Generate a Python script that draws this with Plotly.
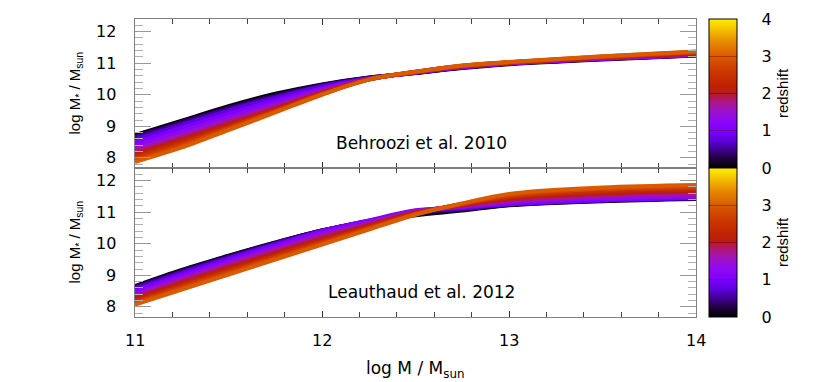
import plotly.graph_objects as go
from plotly.subplots import make_subplots
from plotly.colors import sample_colorscale

# ---------------- data ----------------
halo_mass = [11.0, 11.25, 11.5, 11.75, 12.0, 12.25, 12.5, 12.75, 13.0, 13.5, 14.0]
redshifts = [0.0, 0.25, 0.5, 0.75, 1.0, 1.25, 1.5, 1.75, 2.0, 2.25, 2.5, 2.75, 3.0]

# Behroozi et al. 2010 : log M* at each halo mass, one list per redshift
behroozi_z000 = [8.72, 9.18, 9.64, 10.03, 10.33, 10.55, 10.69, 10.85, 10.97, 11.12, 11.24]
behroozi_z025 = [8.69, 9.15, 9.60, 9.99, 10.31, 10.54, 10.69, 10.86, 10.98, 11.13, 11.25]
behroozi_z050 = [8.64, 9.10, 9.56, 9.95, 10.29, 10.53, 10.70, 10.86, 10.98, 11.13, 11.25]
behroozi_z075 = [8.58, 9.04, 9.50, 9.90, 10.26, 10.52, 10.70, 10.87, 10.99, 11.14, 11.26]
behroozi_z100 = [8.49, 8.95, 9.40, 9.82, 10.21, 10.51, 10.71, 10.87, 10.99, 11.14, 11.26]
behroozi_z125 = [8.38, 8.84, 9.30, 9.74, 10.17, 10.50, 10.71, 10.88, 11.00, 11.15, 11.27]
behroozi_z150 = [8.28, 8.74, 9.21, 9.66, 10.13, 10.50, 10.71, 10.89, 11.00, 11.16, 11.28]
behroozi_z175 = [8.19, 8.65, 9.13, 9.61, 10.09, 10.49, 10.72, 10.90, 11.01, 11.17, 11.30]
behroozi_z200 = [8.13, 8.59, 9.07, 9.56, 10.07, 10.49, 10.72, 10.90, 11.02, 11.18, 11.31]
behroozi_z225 = [8.06, 8.52, 9.02, 9.52, 10.05, 10.49, 10.72, 10.91, 11.02, 11.19, 11.33]
behroozi_z250 = [8.00, 8.46, 8.97, 9.49, 10.03, 10.48, 10.73, 10.92, 11.03, 11.20, 11.34]
behroozi_z275 = [7.93, 8.39, 8.93, 9.46, 10.01, 10.48, 10.73, 10.92, 11.03, 11.21, 11.36]
behroozi_z300 = [7.87, 8.33, 8.88, 9.44, 10.00, 10.48, 10.73, 10.93, 11.04, 11.22, 11.37]

# Leauthaud et al. 2012
leauthaud_z000 = [8.66, 9.17, 9.62, 10.04, 10.42, 10.70, 10.90, 11.05, 11.22, 11.35, 11.42]
leauthaud_z025 = [8.64, 9.15, 9.61, 10.03, 10.42, 10.71, 10.94, 11.08, 11.23, 11.36, 11.43]
leauthaud_z050 = [8.61, 9.12, 9.58, 10.02, 10.42, 10.72, 10.98, 11.11, 11.24, 11.37, 11.44]
leauthaud_z075 = [8.56, 9.07, 9.54, 9.99, 10.41, 10.73, 11.02, 11.13, 11.25, 11.38, 11.45]
leauthaud_z100 = [8.50, 9.01, 9.49, 9.95, 10.40, 10.74, 11.06, 11.15, 11.26, 11.39, 11.46]
leauthaud_z125 = [8.44, 8.95, 9.43, 9.89, 10.34, 10.70, 11.04, 11.17, 11.30, 11.44, 11.50]
leauthaud_z150 = [8.38, 8.89, 9.37, 9.83, 10.28, 10.66, 11.02, 11.19, 11.34, 11.49, 11.55]
leauthaud_z175 = [8.32, 8.83, 9.31, 9.77, 10.22, 10.62, 11.00, 11.21, 11.38, 11.54, 11.61]
leauthaud_z200 = [8.26, 8.77, 9.25, 9.71, 10.16, 10.58, 10.99, 11.23, 11.42, 11.59, 11.66]
leauthaud_z225 = [8.21, 8.71, 9.19, 9.65, 10.11, 10.55, 10.97, 11.24, 11.46, 11.64, 11.71]
leauthaud_z250 = [8.16, 8.66, 9.13, 9.60, 10.06, 10.51, 10.95, 11.26, 11.50, 11.69, 11.76]
leauthaud_z275 = [8.11, 8.60, 9.08, 9.55, 10.01, 10.48, 10.94, 11.27, 11.54, 11.74, 11.81]
leauthaud_z300 = [8.07, 8.55, 9.02, 9.50, 9.97, 10.45, 10.92, 11.28, 11.58, 11.78, 11.86]

x_tick_values = [11, 12, 13, 14]
y_tick_values = [8, 9, 10, 11, 12]
colorbar_ticks_top = [0, 1, 2, 3, 4]
colorbar_ticks_bottom = [0, 1, 2, 3]
panel_labels = ["Behroozi et al. 2010", "Leauthaud et al. 2012"]
y_title = "log M<sub>*</sub> / M<sub>sun</sub>"
x_title = "log M / M<sub>sun</sub>"

behroozi_curves = [behroozi_z000, behroozi_z025, behroozi_z050, behroozi_z075, behroozi_z100,
                   behroozi_z125, behroozi_z150, behroozi_z175, behroozi_z200, behroozi_z225,
                   behroozi_z250, behroozi_z275, behroozi_z300]
leauthaud_curves = [leauthaud_z000, leauthaud_z025, leauthaud_z050, leauthaud_z075, leauthaud_z100,
                    leauthaud_z125, leauthaud_z150, leauthaud_z175, leauthaud_z200, leauthaud_z225,
                    leauthaud_z250, leauthaud_z275, leauthaud_z300]

# ---------------- style ----------------
ZMIN, ZMAX = 0.0, 4.0
palette = [
    [0.00, "rgb(0,0,0)"],
    [0.06, "rgb(30,0,60)"],
    [0.12, "rgb(62,0,140)"],
    [0.19, "rgb(96,0,225)"],
    [0.26, "rgb(130,0,255)"],
    [0.33, "rgb(145,10,240)"],
    [0.40, "rgb(160,20,185)"],
    [0.46, "rgb(176,22,110)"],
    [0.50, "rgb(184,26,30)"],
    [0.55, "rgb(190,34,0)"],
    [0.65, "rgb(204,56,0)"],
    [0.75, "rgb(218,90,0)"],
    [0.85, "rgb(232,140,0)"],
    [1.00, "rgb(255,240,0)"],
]

WIDE = "DejaVu Sans"
NARROW = "Liberation Sans"
AXIS_COLOR = "#808080"
NB = "\u00a0"
PLOT_W = 561.0   # plot-area width in px (830 - margins)

fig = make_subplots(rows=2, cols=1, shared_xaxes=True, vertical_spacing=0)

for row, curves in ((1, behroozi_curves), (2, leauthaud_curves)):
    for i, (z, mstar) in enumerate(zip(redshifts, curves)):
        col = sample_colorscale(palette, [(z - ZMIN) / (ZMAX - ZMIN)])[0]
        fig.add_trace(go.Scatter(
            x=halo_mass, y=mstar, mode="lines",
            line=dict(color=col, width=4, shape="spline", smoothing=0.9),
            fill="tonexty" if i > 0 else None, fillcolor=col,
            showlegend=False, hoverinfo="skip"), row=row, col=1)
    ticks = colorbar_ticks_top if row == 1 else colorbar_ticks_bottom
    # invisible trace carrying the colour bar of this panel
    fig.add_trace(go.Scatter(
        x=[None], y=[None], mode="markers",
        marker=dict(color=[ZMIN], cmin=ZMIN, cmax=ZMAX, colorscale=palette, showscale=True,
                    colorbar=dict(
                        x=1.023, xanchor="left", y=0.75 if row == 1 else 0.25, yanchor="middle",
                        len=0.5, lenmode="fraction", thickness=28, thicknessmode="pixels",
                        xpad=0, ypad=0, outlinecolor="black", outlinewidth=1,
                        tickmode="array", tickvals=ticks,
                        ticktext=[NB * 4 + str(t) for t in ticks],
                        ticks="inside", ticklen=28, tickwidth=1, tickcolor="rgba(90,0,0,0.4)",
                        tickfont=dict(family=WIDE, size=16, color="black"),
                        title=dict(text="redshift", side="right",
                                   font=dict(family=NARROW, size=15, color="black")))),
        showlegend=False, hoverinfo="skip"), row=row, col=1)

for row, label in zip((1, 2), panel_labels):
    fig.add_annotation(x=12.53, y=8.48, text=label, showarrow=False, xanchor="center",
                       yanchor="middle", font=dict(family=WIDE, size=17, color="black"),
                       row=row, col=1)

# y-axis titles and y tick labels (one set per panel)
for ymid, yref in ((0.75, "y"), (0.25, "y2")):
    fig.add_annotation(xref="paper", yref="paper", x=-60 / PLOT_W, y=ymid, text=y_title,
                       textangle=-90, showarrow=False, xanchor="center", yanchor="middle",
                       font=dict(family=NARROW, size=15, color="black"))
    for yv in y_tick_values:
        fig.add_annotation(xref="paper", yref=yref, x=0, xshift=-17, y=yv, text=str(yv),
                           showarrow=False, xanchor="right", yanchor="middle",
                           font=dict(family=WIDE, size=16, color="black"))

# x tick labels and x title below the lower panel
for xv in x_tick_values:
    fig.add_annotation(xref="x2", yref="paper", x=xv, y=0, yshift=-23, text=str(xv),
                       showarrow=False, xanchor="center", yanchor="middle",
                       font=dict(family=WIDE, size=16, color="black"))
fig.add_annotation(xref="paper", yref="paper", x=(415 - 135) / PLOT_W, y=0, yshift=-52,
                   text=x_title, showarrow=False, xanchor="center", yanchor="middle",
                   font=dict(family=WIDE, size=17, color="black"))

common_x = dict(range=[11, 14], tickmode="linear", tick0=11, dtick=1, ticks="inside",
                ticklen=6, tickcolor="#333333", tickwidth=1, mirror="ticks",
                showline=True, linecolor=AXIS_COLOR, linewidth=1.2, showgrid=False,
                zeroline=False, showticklabels=False,
                minor=dict(dtick=0.2, tick0=11, ticks="inside", ticklen=5,
                           tickcolor="#444444", showgrid=False))
common_y = dict(range=[7.68, 12.4], tickmode="array", tickvals=y_tick_values,
                showticklabels=False, ticks="inside",
                ticklen=16, tickcolor="#999999", tickwidth=1, mirror="ticks",
                showline=True, linecolor=AXIS_COLOR, linewidth=1.2, showgrid=False,
                zeroline=False,
                minor=dict(dtick=0.2, tick0=8, ticks="inside", ticklen=8,
                           tickcolor="#b0b0b0", showgrid=False))

fig.update_xaxes(**common_x)
fig.update_yaxes(**common_y)
fig.update_layout(yaxis=dict(domain=[0.5, 1.0]), yaxis2=dict(domain=[0.0, 0.5]))

# the page body adds an 8 px offset, margins compensate for it
fig.update_layout(
    width=830, height=382,
    margin=dict(l=127, r=142, t=11, b=73, autoexpand=False),
    paper_bgcolor="white", plot_bgcolor="white",
    showlegend=False,
)

fig.write_html("out.html")
